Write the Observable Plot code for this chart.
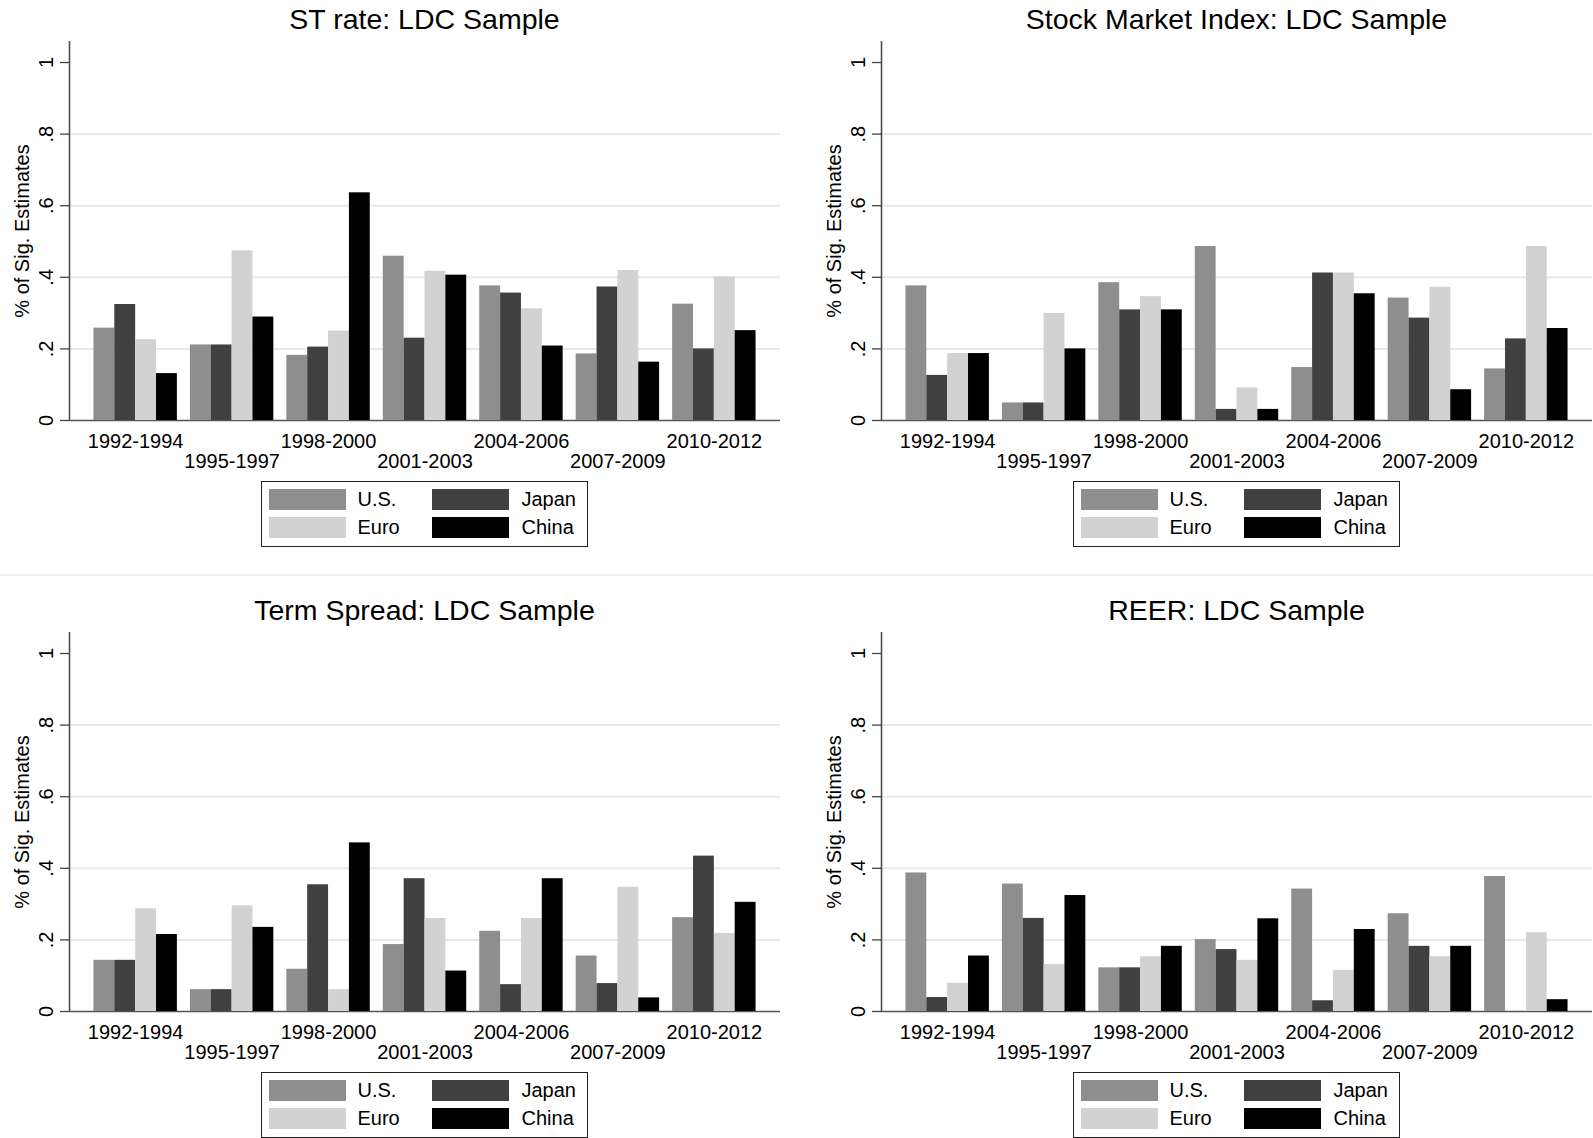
<!DOCTYPE html>
<html>
<head>
<meta charset="utf-8">
<script src="https://cdn.jsdelivr.net/npm/d3@7"></script>
<script src="https://cdn.jsdelivr.net/npm/@observablehq/plot@0.6"></script>
<style>
html,body{margin:0;padding:0;background:#fff;width:1593px;height:1138px;overflow:hidden;}
body{position:relative;font-family:"Liberation Sans",Arial,sans-serif;color:#000;}
.panel{position:absolute;width:812px;height:600px;}
.title{position:absolute;left:69px;width:711px;top:2px;text-align:center;font-size:28.5px;line-height:34px;white-space:nowrap;z-index:5;}
.legend{position:absolute;left:261px;top:481px;width:325px;height:64px;border:1.5px solid #222;background:#fff;}
.sw{position:absolute;width:77px;height:21px;}
.lab{position:absolute;font-size:20px;line-height:21px;white-space:nowrap;}
.sep{position:absolute;left:0;width:1593px;top:574px;height:2px;background:#f0f0f0;}
</style>
</head>
<body>
<div class="sep"></div>
<script>
// ---- categories / labels ----
const periods = ["1992-1994","1995-1997","1998-2000","2001-2003","2004-2006","2007-2009","2010-2012"];
const series = ["U.S.","Japan","Euro","China"];
const seriesColors = ["#8e8e8e","#404040","#d2d2d2","#000000"];
const yTicks = [0, 0.2, 0.4, 0.6, 0.8, 1];
const gridTicks = [0.2, 0.4, 0.6, 0.8];
const yLabel = "% of Sig. Estimates";
const panelTitles = ["ST rate: LDC Sample","Stock Market Index: LDC Sample","Term Spread: LDC Sample","REER: LDC Sample"];

// ---- ST rate ----
const stUS    = [0.258, 0.211, 0.182, 0.459, 0.376, 0.186, 0.325];
const stJapan = [0.324, 0.211, 0.205, 0.230, 0.356, 0.373, 0.200];
const stEuro  = [0.226, 0.474, 0.250, 0.417, 0.312, 0.419, 0.401];
const stChina = [0.131, 0.289, 0.636, 0.406, 0.208, 0.163, 0.251];

// ---- Stock Market Index ----
const smUS    = [0.376, 0.049, 0.385, 0.486, 0.148, 0.342, 0.144];
const smJapan = [0.126, 0.049, 0.309, 0.031, 0.412, 0.286, 0.228];
const smEuro  = [0.187, 0.299, 0.346, 0.091, 0.412, 0.372, 0.486];
const smChina = [0.187, 0.200, 0.309, 0.031, 0.354, 0.086, 0.257];

// ---- Term Spread ----
const tsUS    = [0.143, 0.061, 0.118, 0.187, 0.224, 0.155, 0.262];
const tsJapan = [0.143, 0.061, 0.354, 0.371, 0.075, 0.078, 0.434];
const tsEuro  = [0.287, 0.295, 0.061, 0.260, 0.260, 0.347, 0.218];
const tsChina = [0.215, 0.235, 0.471, 0.113, 0.371, 0.038, 0.305];

// ---- REER ----
const reUS    = [0.387, 0.356, 0.122, 0.201, 0.342, 0.273, 0.377];
const reJapan = [0.039, 0.260, 0.122, 0.173, 0.030, 0.182, 0.000];
const reEuro  = [0.079, 0.131, 0.153, 0.143, 0.115, 0.153, 0.220];
const reChina = [0.155, 0.324, 0.182, 0.259, 0.229, 0.182, 0.033];

const fmt = d => d === 0 ? "0" : d === 1 ? "1" : String(+d.toFixed(1)).replace(/^0\./, ".");

function buildRows(cols) {
  const rows = [];
  periods.forEach((p, i) => series.forEach((s, j) => rows.push({period: p, series: s, value: cols[j][i]})));
  return rows;
}

function makePanel(left, top, title, cols) {
  const div = document.createElement("div");
  div.className = "panel";
  div.style.left = left + "px";
  div.style.top = top + "px";
  document.body.appendChild(div);

  const W = 812, H = 450, mL = 69, mR = 32, mT = 11, mB = 60;
  const yDom = [0, 1.0587];
  const font = {fontFamily: '"Liberation Sans", Arial, sans-serif', fontSize: "20px", color: "#000"};

  const bg = Plot.plot({
    width: W, height: H, marginLeft: mL, marginRight: mR, marginTop: mT, marginBottom: mB,
    x: {domain: [0, 1], axis: null},
    y: {domain: yDom, axis: null},
    style: {...font, background: "transparent", overflow: "visible"},
    marks: [
      Plot.ruleY(gridTicks, {stroke: "#e8e8e8", strokeWidth: 2}),
      Plot.axisY(yTicks, {tickSize: 9, tickFormat: () => "", stroke: "#444", strokeWidth: 1.3, label: null}),
      Plot.text(yTicks, {y: d => d, text: fmt, frameAnchor: "left", dx: -23, rotate: -90, textAnchor: "middle", lineAnchor: "middle", fill: "#000"}),
      Plot.text([yLabel], {text: d => d, frameAnchor: "left", dx: -47, rotate: -90, textAnchor: "middle", lineAnchor: "middle", fill: "#000"}),
      Plot.ruleX([0], {stroke: "#444", strokeWidth: 1.5}),
      Plot.ruleY([0], {stroke: "#555", strokeWidth: 1.5})
    ]
  });
  bg.style.position = "absolute";
  bg.style.left = "0px";
  bg.style.top = "30px";
  div.appendChild(bg);

  const rows = buildRows(cols);
  const fg = Plot.plot({
    width: W, height: H, marginLeft: mL, marginRight: mR, marginTop: mT, marginBottom: mB,
    fx: {domain: periods, paddingInner: 0.135, paddingOuter: 0.2535, round: false, label: null},
    x: {domain: series, padding: 0, round: false, axis: null},
    y: {domain: yDom, axis: null},
    color: {domain: series, range: seriesColors},
    style: {...font, background: "transparent", overflow: "visible"},
    marks: [
      Plot.barY(rows, {fx: "period", x: "series", y: "value", fill: "series"}),
      Plot.axisFx({anchor: "bottom", tickSize: 0, tickPadding: 13, label: null, fill: "#000",
        tickFormat: d => periods.indexOf(d) % 2 === 0 ? d : ""}),
      Plot.axisFx({anchor: "bottom", tickSize: 0, tickPadding: 33, label: null, fill: "#000",
        tickFormat: d => periods.indexOf(d) % 2 === 1 ? d : ""})
    ]
  });
  fg.style.position = "absolute";
  fg.style.left = "0px";
  fg.style.top = "30px";
  div.appendChild(fg);

  const t = document.createElement("div");
  t.className = "title";
  t.textContent = title;
  div.appendChild(t);

  // legend
  const lg = document.createElement("div");
  lg.className = "legend";
  div.appendChild(lg);
  const legendLayout = [
    {s: 0, sx: 269, tx: 358, y: 489},
    {s: 1, sx: 432, tx: 522, y: 489},
    {s: 2, sx: 269, tx: 358, y: 517},
    {s: 3, sx: 432, tx: 522, y: 517}
  ];
  legendLayout.forEach(L => {
    const sw = document.createElement("div");
    sw.className = "sw";
    sw.style.left = (L.sx - 262.5) + "px";
    sw.style.top = (L.y - 482.5) + "px";
    sw.style.background = seriesColors[L.s];
    lg.appendChild(sw);
    const lb = document.createElement("div");
    lb.className = "lab";
    lb.style.left = (L.tx - 262.5) + "px";
    lb.style.top = (L.y - 482.5) + "px";
    lb.textContent = series[L.s];
    lg.appendChild(lb);
  });
}

makePanel(0, 0, panelTitles[0], [stUS, stJapan, stEuro, stChina]);
makePanel(812, 0, panelTitles[1], [smUS, smJapan, smEuro, smChina]);
makePanel(0, 591, panelTitles[2], [tsUS, tsJapan, tsEuro, tsChina]);
makePanel(812, 591, panelTitles[3], [reUS, reJapan, reEuro, reChina]);
</script>
</body>
</html>
